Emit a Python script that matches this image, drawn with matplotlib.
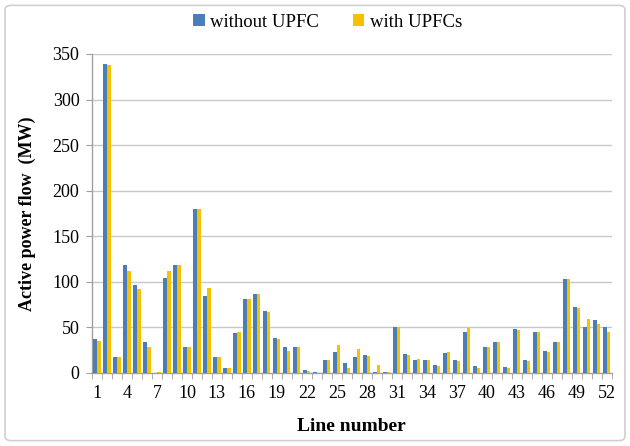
import matplotlib
matplotlib.use("Agg")
import matplotlib.pyplot as plt
from matplotlib.patches import FancyBboxPatch
import numpy as np

lines = list(range(1, 53))
without_upfc = [37, 339, 18, 118, 97, 34, 0.5, 104, 118, 29,
                180, 85, 18, 5, 44, 81, 87, 68, 38, 28,
                29, 3, 1.5, 14, 23, 11, 18, 20, 1.5, 0.7,
                50, 21, 14, 14, 8.5, 22, 14, 45, 7.5, 29,
                34, 7, 48, 14, 45, 24, 34, 103, 72, 50,
                58, 50]
with_upfcs = [35, 338, 18, 112, 92, 29, 1.5, 112, 118, 29,
              180, 93, 18, 6, 45, 81, 87, 67, 37, 24,
              29, 2.5, 0.3, 14, 31, 5, 26, 19, 9, 0.7,
              50, 20, 15, 14, 7.5, 23, 13, 49.5, 6, 29,
              34, 6, 47, 13.5, 45, 23.5, 34, 103, 71, 59,
              54, 45]
yticks = [0, 50, 100, 150, 200, 250, 300, 350]
xtick_labels = [1, 4, 7, 10, 13, 16, 19, 22, 25, 28, 31, 34, 37, 40, 43, 46, 49, 52]

plt.rcParams['font.family'] = ['Liberation Serif', 'DejaVu Serif']

fig = plt.figure(figsize=(6.30, 4.46), dpi=100)
ax = fig.add_axes([0.146, 0.1637, 0.825, 0.7153])

# outer border
border = FancyBboxPatch((0.008, 0.012), 0.984, 0.976, boxstyle="round,pad=0,rounding_size=0.01",
                        transform=fig.transFigure, fill=False, edgecolor='#d0d0d0', linewidth=1.2)
fig.patches.append(border)

x = np.array(lines)
w = 0.36
blue = '#4a7ebb'
yellow = '#f6c100'
ax.bar(x - w/2, without_upfc, width=w, color=blue, label='without UPFC', zorder=3)
ax.bar(x + w/2, with_upfcs, width=w, color=yellow, label='with UPFCs', zorder=3)

ax.set_xlim(0.5, 52.5)
ax.set_ylim(0, 350)
ax.set_yticks(yticks)
ax.set_yticklabels([str(v) for v in yticks], fontsize=13)
ax.yaxis.grid(True, color='#c8c8c8', linewidth=1.0, zorder=0)
ax.set_axisbelow(True)

ax.set_xticks(xtick_labels)
ax.set_xticklabels([str(v) for v in xtick_labels], fontsize=13)
ax.tick_params(axis='x', which='major', length=0, pad=9)
ax.set_xticks(np.arange(0.5, 53.0, 1.0), minor=True)
ax.tick_params(axis='x', which='minor', length=4, color='#a0a0a0', direction='out')
ax.tick_params(axis='y', length=4, color='#a0a0a0', direction='out', pad=5)

for s in ['top', 'right']:
    ax.spines[s].set_visible(False)
for s in ['left', 'bottom']:
    ax.spines[s].set_color('#a0a0a0')
    ax.spines[s].set_linewidth(1.0)

ax.set_ylabel('Active power flow  (MW)', fontsize=13, fontweight='bold', labelpad=12)
ax.set_xlabel('Line number', fontsize=14, fontweight='bold', labelpad=11)

fig.legend(loc='center', bbox_to_anchor=(0.52, 0.95), ncol=2, frameon=False,
           fontsize=13.5, handlelength=0.6, handleheight=0.6, handletextpad=0.3,
           columnspacing=1.8)

fig.savefig('out.png', dpi=100)
